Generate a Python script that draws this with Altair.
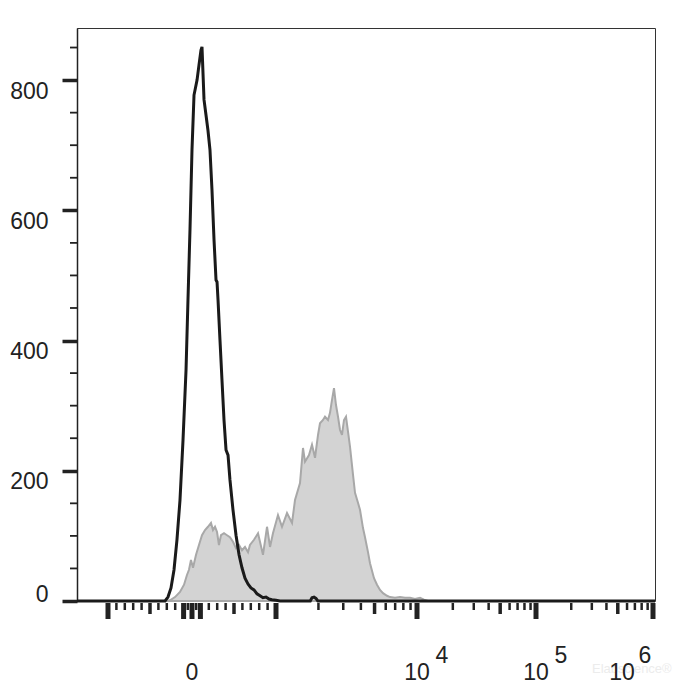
import math
import altair as alt
import pandas as pd

# ---------------- data ----------------
# black (open) histogram: fluorescence value, event count
black_v = [-1400, -321, -286, -250, -214, -179, -143, -107, -71, -48, -24, 0, 24, 60, 83,
           107, 119, 143, 167, 190, 214, 238, 262, 286, 298, 310, 333, 357, 381, 405,
           429, 452, 488, 524, 560, 595, 631, 667, 702, 738, 774, 810, 845, 881, 917,
           952, 1000, 1067, 1750, 1800, 1860, 1920, 1980, 1040000]
black_c = [0, 0, 6, 20, 48, 94, 155, 247, 355, 462, 570, 693, 777, 800, 823,
           846, 851, 770, 746, 723, 693, 631, 555, 493, 490, 462, 401, 339, 278, 232,
           224, 186, 140, 101, 71, 51, 35, 26, 20, 17, 11, 8, 5, 6, 3,
           2, 1, 0, 0, 5, 6, 4, 0, 0]

# grey (filled) histogram: fluorescence value, event count
grey_v = [-1400, -300, -262, -202, -143, -95, -60, -36, -12, 12, 48, 83, 119, 155, 190,
          226, 250, 274, 298, 321, 345, 381, 417, 452, 488, 524, 560, 595, 631, 667,
          690, 738, 786, 845, 893, 929, 964, 1033, 1103, 1197, 1299, 1364, 1480, 1554,
          1606, 1714, 1800, 1891, 1986, 2051, 2154, 2226, 2338, 2415, 2496, 2578, 2664,
          2753, 2843, 2938, 3035, 3136, 3241, 3348, 3516, 3634, 3815, 3942, 4140, 4278,
          4492, 4642, 4955, 5204, 5466, 5741, 6127, 6435, 6982, 7574, 8222, 8920, 9680,
          10600, 11450, 12370, 1040000]
grey_c = [0, 0, 1, 6, 14, 25, 40, 48, 63, 51, 71, 86, 101, 109, 114,
          120, 109, 114, 106, 86, 101, 104, 101, 98, 91, 81, 86, 78, 83, 75,
          86, 94, 104, 71, 114, 83, 104, 132, 114, 135, 120, 155, 181, 235,
          214, 224, 240, 220, 255, 273, 278, 283, 278, 289, 309, 327, 301,
          283, 263, 255, 278, 283, 260, 237, 194, 166, 151, 140, 112, 98,
          75, 58, 35, 25, 17, 12, 8, 6, 5, 6, 5, 5, 3,
          5, 2, 0, 0]

# axis tick values (fluorescence units)
x_major = [-1000, -100, 0, 100, 1000, 10000, 100000, 1000000]
x_medium = [-500, 500, 5000, 50000, 500000]
x_minor = ([-900, -800, -700, -600, -400, -300, -200, -50, 50, 200, 300, 400, 600, 700, 800, 900]
           + [m * 10 ** e for e in (3, 4, 5) for m in (2, 3, 4, 6, 7, 8, 9)])
x_label_mid = [0, 10000, 100000]
x_label_mid_txt = ["0", "10", "10"]
x_label_mid_exp = ["", "4", "5"]
x_label_end = [1000000]
y_major = [0, 200, 400, 600, 800]
y_minor = [50, 100, 150, 250, 300, 350, 450, 500, 550, 650, 700, 750, 850]

# ---------------- biexponential-like display transform ----------------
LIN = 1000.0


def disp(v):
    if abs(v) <= LIN:
        return v / LIN
    return math.copysign(1 + math.log10(abs(v) / LIN), v)


CALC = ("abs(datum.v) <= 1000 ? datum.v / 1000 : "
        "(datum.v > 0 ? 1 : -1) * (1 + log(abs(datum.v) / 1000) / LN10)")

anchors = [-1400, -1000, 1000, 10000, 100000, 1000000, 1040000]
anchor_px = [0, 31, 199, 340, 459, 576, 578]
X_SCALE = alt.Scale(type="linear", domain=[disp(a) for a in anchors], range=anchor_px,
                    nice=False, zero=False)
Y_SCALE = alt.Scale(domain=[0, 880], nice=False, zero=True)

FONT = "Liberation Sans"
INK = "#222222"

Y_AXIS = alt.Axis(values=y_major, title=None, grid=False, tickSize=15, tickWidth=3.5,
                  tickColor=INK, domainColor=INK, domainWidth=1.5, labelFont=FONT,
                  labelFontSize=23, labelColor=INK, labelPadding=14,
                  labelBaseline={"condition": {"test": "datum.value === 0", "value": "alphabetic"},
                                 "value": "top"})

X_ENC = alt.X("t:Q", scale=X_SCALE, axis=None)

grey_df = pd.DataFrame({"v": grey_v, "count": grey_c})
black_df = pd.DataFrame({"v": black_v, "count": black_c})

grey = alt.Chart(grey_df).transform_calculate(t=CALC).mark_area(
    fill="#d3d3d3", stroke="#a8a8a8", strokeWidth=2
).encode(x=X_ENC, y=alt.Y("count:Q", scale=Y_SCALE, axis=Y_AXIS))

black = alt.Chart(black_df).transform_calculate(t=CALC).mark_line(
    color="#1a1a1a", strokeWidth=3
).encode(x=X_ENC, y=alt.Y("count:Q", scale=Y_SCALE, axis=Y_AXIS))


def xticks(vals, y2, width):
    return alt.Chart(pd.DataFrame({"v": vals})).transform_calculate(t=CALC).mark_rule(
        color=INK, strokeWidth=width
    ).encode(x=X_ENC, y=alt.value(575), y2=alt.value(y2))


tick_major = xticks(x_major, 591, 5)
tick_medium = xticks(x_medium, 586, 3.5)
tick_minor = xticks(x_minor, 582, 2.5)

ytick_minor = alt.Chart(pd.DataFrame({"count": y_minor})).mark_rule(
    color=INK, strokeWidth=1.8
).encode(y=alt.Y("count:Q", scale=Y_SCALE, axis=Y_AXIS), x=alt.value(-7), x2=alt.value(0))

lab_df = pd.DataFrame({"v": x_label_mid, "txt": x_label_mid_txt, "ex": x_label_mid_exp})
end_df = pd.DataFrame({"v": x_label_end, "txt": ["10"], "ex": ["6"]})

txt_kw = dict(font=FONT, fontSize=23, color=INK, baseline="alphabetic")

lab_mid = alt.Chart(lab_df).transform_calculate(t=CALC).mark_text(align="center", **txt_kw).encode(
    x=X_ENC, y=alt.value(652), text="txt:N")
exp_mid = alt.Chart(lab_df).transform_calculate(t=CALC).mark_text(align="center", dx=25, **txt_kw).encode(
    x=X_ENC, y=alt.value(635), text="ex:N")
lab_end = alt.Chart(end_df).transform_calculate(t=CALC).mark_text(align="center", dx=-31, **txt_kw).encode(
    x=X_ENC, y=alt.value(652), text="txt:N")
exp_end = alt.Chart(end_df).transform_calculate(t=CALC).mark_text(align="center", dx=-8, **txt_kw).encode(
    x=X_ENC, y=alt.value(635), text="ex:N")

watermark = alt.Chart(pd.DataFrame({"w": ["Elabscience®"]})).mark_text(
    align="left", baseline="middle", font=FONT, fontSize=13, color="#ececec"
).encode(x=alt.value(515), y=alt.value(641), text="w:N")

chart = alt.layer(
    grey, black, tick_minor, tick_medium, tick_major, ytick_minor,
    watermark, lab_mid, exp_mid, lab_end, exp_end
).properties(
    width=578, height=573,
    padding={"left": 69, "top": 20, "right": 32, "bottom": 85},
    autosize=alt.AutoSizeParams(type="none"),
    background="white",
).configure_view(stroke="#333333", strokeWidth=1)

chart.save("out.html", embed_options={"renderer": "svg", "actions": False})
